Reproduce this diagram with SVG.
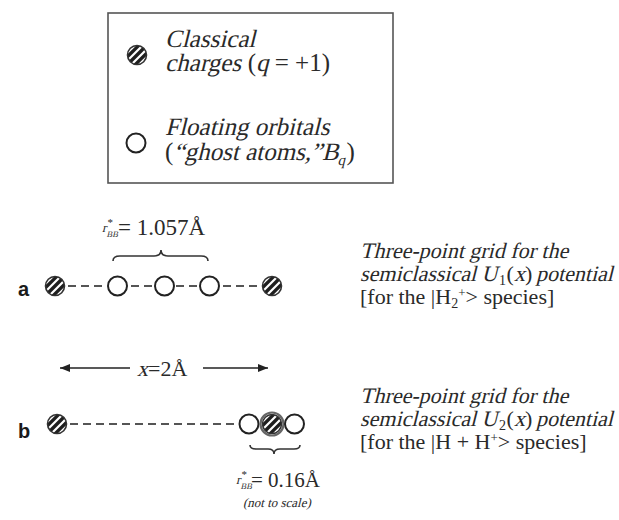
<svg xmlns="http://www.w3.org/2000/svg" xmlns:xlink="http://www.w3.org/1999/xlink" width="619" height="520" viewBox="0 0 619 520">
<style>
text{font-family:"Liberation Serif","Times New Roman",serif;fill:#2a2a2a;font-style:normal}
.lbl{font-family:"Liberation Sans",Arial,sans-serif;font-weight:bold;font-size:20px;fill:#1a1a1a}
.orb{fill:#fff;stroke:#222;stroke-width:2}
.dash{stroke:#555;stroke-width:2;stroke-dasharray:8 5;fill:none}
.brace{stroke:#333;stroke-width:1.6;fill:none}
.arr{stroke:#222;stroke-width:1.6;fill:none}
</style>
<defs>
<clipPath id="cc"><circle r="9.5"/></clipPath>
<g id="charge">
<circle r="9.5" fill="#fff"/>
<g clip-path="url(#cc)"><g transform="rotate(-45)" fill="#1e1e1e"><rect x="-12" y="-7.2" width="24" height="3.3"/><rect x="-12" y="-1.65" width="24" height="3.3"/><rect x="-12" y="3.9" width="24" height="3.3"/></g></g>
<circle r="9.5" fill="none" stroke="#333" stroke-width="1.6"/>
</g>
<marker id="ah" viewBox="0 0 10 8" refX="10" refY="4" markerWidth="10" markerHeight="8" markerUnits="userSpaceOnUse" orient="auto"><path d="M0,0 L10,4 L0,8 z" fill="#222"/></marker>
</defs>
<rect width="619" height="520" fill="#fff"/>

<g id="legend">
<rect x="108" y="13" width="285" height="170" fill="#fff" stroke="#555" stroke-width="1.6"/>
<use xlink:href="#charge" href="#charge" x="137" y="55"/>
<circle class="orb" cx="136" cy="143" r="9.5"/>
<text transform="translate(165,47) skewX(-14)" font-size="25">Classical</text>
<text transform="translate(165,71) skewX(-14)" font-size="25">charges</text>
<text x="241.4" y="71" font-size="25" xml:space="preserve"> (</text>
<text transform="translate(256,71) skewX(-14)" font-size="25">q</text>
<text x="268.5" y="71" font-size="25" xml:space="preserve"> = +1)</text>
<text transform="translate(165,135) skewX(-14)" font-size="25">Floating orbitals</text>
<text x="165" y="160" font-size="25">(</text>
<text transform="translate(173.5,160) skewX(-14)" font-size="25">“ghost atoms,”B<tspan font-size="15" dy="5">q</tspan></text>
<text x="346.5" y="160" font-size="25">)</text>
</g>

<g id="connectors">
<line class="dash" x1="68" y1="286" x2="102" y2="286"/>
<line class="dash" x1="131" y1="286" x2="152" y2="286"/>
<line class="dash" x1="176" y1="286" x2="197" y2="286"/>
<line class="dash" x1="223" y1="286" x2="257" y2="286"/>
<line class="dash" x1="70" y1="424" x2="236" y2="424"/>
<path class="brace" d="M113,261 q0,-5 7,-5 L154,256 q7,0 7,-6 q0,6 7,6 L201,256 q7,0 7,5"/>
<path class="brace" d="M250,445 q0,4 6,4 L268,449 q6,0 6,5 q0,-5 6,-5 L294,449 q6,0 6,-4"/>
<line class="arr" x1="130" y1="368" x2="60" y2="368" marker-end="url(#ah)"/>
<line class="arr" x1="203" y1="368" x2="268" y2="368" marker-end="url(#ah)"/>
</g>

<g id="row-a">
<text class="lbl" x="18" y="296">a</text>
<g id="a-charge-left"><use xlink:href="#charge" href="#charge" x="55" y="286"/></g>
<g id="a-orbital-1"><circle class="orb" cx="117.5" cy="286" r="9.5"/></g>
<g id="a-orbital-2"><circle class="orb" cx="164.5" cy="286" r="9.5"/></g>
<g id="a-orbital-3"><circle class="orb" cx="209.5" cy="286" r="9.5"/></g>
<g id="a-charge-right"><use xlink:href="#charge" href="#charge" x="272" y="286"/></g>
<g id="a-dist">
<text transform="translate(102,232) skewX(-14)" font-size="13">r</text>
<text x="107.5" y="226" font-size="11">*</text>
<text transform="translate(106.5,237) skewX(-14)" font-size="8.5">BB</text>
<text x="118" y="235" font-size="23">= 1.057Å</text>
</g>
<g id="a-caption">
<text transform="translate(360,258) skewX(-14)" font-size="22">Three-point grid for the</text>
<text transform="translate(360,281) skewX(-14)" font-size="22">semiclassical U</text>
<text x="499" y="285" font-size="14">1</text>
<text x="506.5" y="281" font-size="22">(</text>
<text transform="translate(514,281) skewX(-14)" font-size="22">x</text>
<text x="525" y="281" font-size="22">)</text>
<text transform="translate(536,281) skewX(-14)" font-size="22">potential</text>
<text x="360" y="304" font-size="22">[for the |H<tspan font-size="14" dy="4">2</tspan><tspan font-size="13" dy="-11">+</tspan><tspan dy="7">&gt; species]</tspan></text>
</g>
</g>

<g id="distance-x">
<text transform="translate(137,376) skewX(-14)" font-size="22">x</text>
<text x="148" y="376" font-size="22">=2Å</text>
</g>

<g id="row-b">
<text class="lbl" x="18" y="438">b</text>
<g id="b-charge-left"><use xlink:href="#charge" href="#charge" x="57" y="424"/></g>
<g id="b-orbital-1"><circle class="orb" cx="249" cy="424" r="9.5"/></g>
<g id="b-charge-center"><use xlink:href="#charge" href="#charge" x="272" y="424"/><circle cx="272" cy="424" r="11.5" fill="none" stroke="#666" stroke-width="2.2"/></g>
<g id="b-orbital-2"><circle class="orb" cx="294.5" cy="424" r="9.5"/></g>
<g id="b-dist">
<text transform="translate(236,484) skewX(-14)" font-size="13">r</text>
<text x="241.5" y="478" font-size="11">*</text>
<text transform="translate(240.5,489) skewX(-14)" font-size="8.5">BB</text>
<text x="251" y="487" font-size="21">= 0.16Å</text>
<text transform="translate(243,507) skewX(-14)" font-size="13">(not to scale)</text>
</g>
<g id="b-caption">
<text transform="translate(360,403) skewX(-14)" font-size="22">Three-point grid for the</text>
<text transform="translate(360,426) skewX(-14)" font-size="22">semiclassical U</text>
<text x="499" y="430" font-size="14">2</text>
<text x="506.5" y="426" font-size="22">(</text>
<text transform="translate(514,426) skewX(-14)" font-size="22">x</text>
<text x="525" y="426" font-size="22">)</text>
<text transform="translate(536,426) skewX(-14)" font-size="22">potential</text>
<text x="360" y="449" font-size="22">[for the |H + H<tspan font-size="13" dy="-7">+</tspan><tspan dy="7">&gt; species]</tspan></text>
</g>
</g>
</svg>
